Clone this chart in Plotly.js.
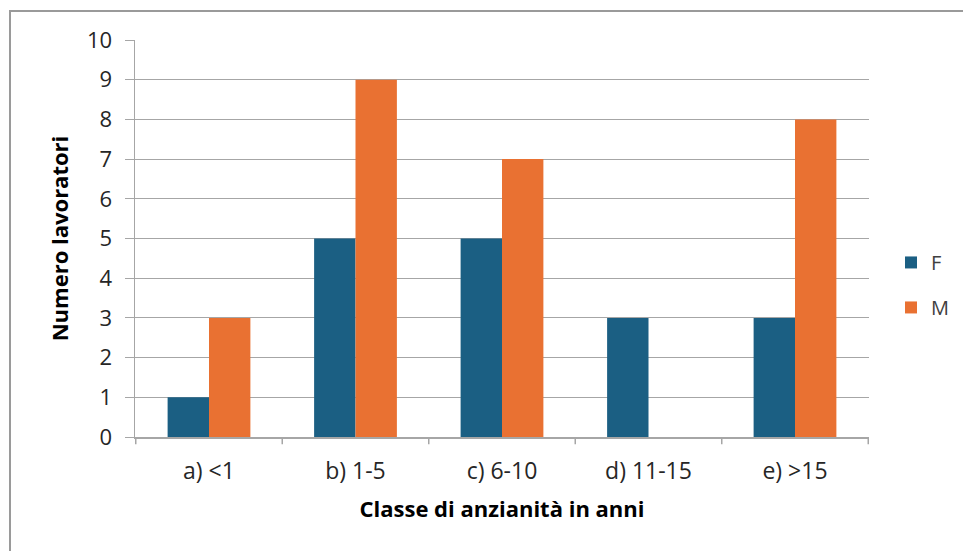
<!DOCTYPE html>
<html>
<head>
<meta charset="utf-8">
<script src="https://cdn.plot.ly/plotly-3.0.1.min.js"></script>
<style>
html,body{margin:0;padding:0;background:#fff;}
#wrap{position:relative;width:963px;height:551px;}
#chart{width:963px;height:551px;}
#frame{position:absolute;left:9px;top:10px;width:960px;height:560px;border-top:2px solid #9a9a9a;border-left:2px solid #9a9a9a;pointer-events:none;}
</style>
</head>
<body>
<div id="wrap"><div id="chart"></div><div id="frame"></div></div>
<script>
const categories = ["a) <1", "b) 1-5", "c) 6-10", "d) 11-15", "e) >15"];
const femmine = [1, 5, 5, 3, 3];
const maschi = [3, 9, 7, 0, 8];
const yTicks = [0, 1, 2, 3, 4, 5, 6, 7, 8, 9, 10];

const font = "Open Sans, Noto Sans, sans-serif";
const traces = [
  {type: "bar", name: "F", x: categories, y: femmine, marker: {color: "#1b5f83"}, legendgroup: "F"},
  {type: "bar", name: "M", x: categories, y: maschi, marker: {color: "#e97132"}, legendgroup: "M"}
];
const layout = {
  width: 963, height: 551,
  margin: {l: 135, r: 94, t: 40, b: 114, autoexpand: false},
  paper_bgcolor: "#fff", plot_bgcolor: "#fff",
  barmode: "group", bargap: 0.435, bargroupgap: 0,
  font: {family: font, color: "#262626"},
  xaxis: {
    type: "category",
    showline: true, linecolor: "#a6a6a6", linewidth: 1.5,
    ticks: "", showgrid: false,
    tickfont: {size: 23, family: font, color: "#262626"},
    ticklabelstandoff: 13,
    title: {text: "Classe di anzianità in anni", font: {size: 22, family: font, weight: "bold", color: "#000"}, standoff: 16}
  },
  yaxis: {
    range: [0, 10], tickvals: yTicks,
    showline: true, linecolor: "#a6a6a6", linewidth: 1.5,
    ticks: "outside", ticklen: 9, tickcolor: "#a6a6a6",
    gridcolor: "#a6a6a6", gridwidth: 1, zeroline: false,
    tickfont: {size: 22, family: font, color: "#262626"},
    ticklabelstandoff: 8,
    title: {text: "Numero lavoratori", font: {size: 22, family: font, weight: "bold", color: "#000"}, standoff: 12}
  },
  legend: {
    x: 1.03, xanchor: "left", y: 0.383, yanchor: "middle",
    font: {size: 20, family: font, color: "#404040"},
    tracegroupgap: 16, itemwidth: 30
  },
  shapes: categories.map((c, i) => ({
    type: "line", xref: "x", yref: "paper",
    x0: i - 0.5, x1: i - 0.5, y0: 0, y1: -0.018,
    line: {color: "#a6a6a6", width: 1.5}
  })).concat([{
    type: "line", xref: "x", yref: "paper",
    x0: categories.length - 0.5, x1: categories.length - 0.5, y0: 0, y1: -0.018,
    line: {color: "#a6a6a6", width: 1.5}
  }]),
  showlegend: true
};
Plotly.newPlot("chart", traces, layout, {displayModeBar: false, staticPlot: true});
</script>
</body>
</html>
